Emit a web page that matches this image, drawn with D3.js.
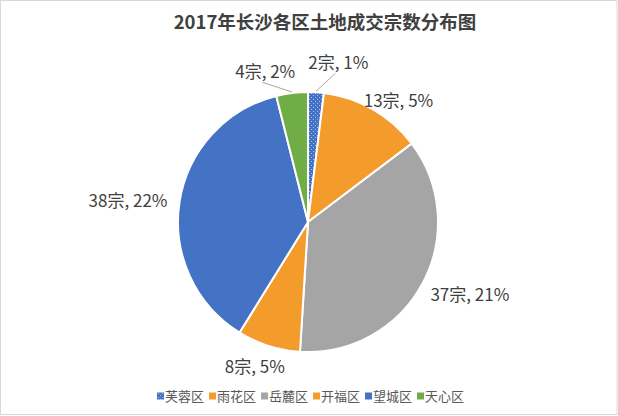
<!DOCTYPE html>
<html>
<head>
<meta charset="utf-8">
<script src="https://cdn.jsdelivr.net/npm/d3@7"></script>
<style>
  html, body { margin: 0; padding: 0; background: #fff; }
  svg { display: block; }
  text { font-family: "Noto Sans CJK SC", "Noto Sans", sans-serif; }
</style>
</head>
<body>
<svg id="chart" width="618" height="416"></svg>
<script>
// ---- data ----
const title = "2017年长沙各区土地成交宗数分布图";
const districts = ["芙蓉区", "雨花区", "岳麓区", "开福区", "望城区", "天心区"];
const counts = [2, 13, 37, 8, 38, 4];
const percentLabels = ["1%", "5%", "21%", "5%", "22%", "2%"];

// ---- styling / layout (not data) ----
const colors = ["#4472C4", "#F39B2B", "#A5A5A5", "#F39B2B", "#4472C4", "#70AD47"];
const patterned = [true, false, false, false, false, false];
// label nudges relative to outer-arc anchor (best-fit placement)
const labelNudge = [[20, 10], [6, 25], [13, -7], [-2, -16], [-13, 5], [-22, 18]];
const hasLeader = [true, false, false, false, false, true];

const W = 618, H = 416;
const cx = 308, cy = 222, R = 130;

const svg = d3.select("#chart");

// frame
svg.append("rect").attr("x", 0.5).attr("y", 0.5).attr("width", W - 1.5).attr("height", H - 2)
  .attr("fill", "#fff").attr("stroke", "#d9d9d9").attr("stroke-width", 1);

// dotted pattern
const defs = svg.append("defs");
const pat = defs.append("pattern").attr("id", "dots").attr("patternUnits", "userSpaceOnUse")
  .attr("width", 4).attr("height", 4);
pat.append("rect").attr("width", 4).attr("height", 4).attr("fill", colors[0]);
pat.append("rect").attr("x", 1).attr("y", 1).attr("width", 1).attr("height", 1).attr("fill", "#a9bde6");
pat.append("rect").attr("x", 3).attr("y", 3).attr("width", 1).attr("height", 1).attr("fill", "#a9bde6");

// title
svg.append("text").attr("x", 325).attr("y", 29).attr("text-anchor", "middle")
  .attr("font-size", 18.5).attr("font-weight", "bold").attr("fill", "#404040").text(title);

const data = districts.map((d, i) => ({ name: d, value: counts[i], pct: percentLabels[i], i }));
const pie = d3.pie().value(d => d.value).sort(null);
const arcs = pie(data);
const arc = d3.arc().innerRadius(0).outerRadius(R);
const labelArc = d3.arc().innerRadius(R * 1.3).outerRadius(R * 1.3);

const g = svg.append("g").attr("transform", `translate(${cx},${cy})`);

g.selectAll("path.slice").data(arcs).enter().append("path")
  .attr("class", "slice")
  .attr("d", arc)
  .attr("fill", d => patterned[d.data.i] ? "url(#dots)" : colors[d.data.i])
  .attr("stroke", "#fff").attr("stroke-width", 2).attr("stroke-linejoin", "round");

// labels
const labelPos = arcs.map(d => {
  const c = labelArc.centroid(d);
  const n = labelNudge[d.data.i];
  return [c[0] + n[0], c[1] + n[1]];
});

// leader lines
arcs.forEach((d, k) => {
  if (!hasLeader[d.data.i]) return;
  const mid = (d.startAngle + d.endAngle) / 2;
  const ex = R * Math.sin(mid), ey = -R * Math.cos(mid);
  const [lx, ly] = labelPos[k];
  g.append("line").attr("x1", lx - 3).attr("y1", ly + 10).attr("x2", ex).attr("y2", ey - 1)
    .attr("stroke", "#a6a6a6").attr("stroke-width", 1);
});

g.selectAll("text.lbl").data(arcs).enter().append("text")
  .attr("class", "lbl")
  .attr("x", (d, k) => labelPos[k][0])
  .attr("y", (d, k) => labelPos[k][1])
  .attr("dy", "0.35em")
  .attr("text-anchor", "middle")
  .attr("font-size", 17).attr("fill", "#404040")
  .text(d => `${d.data.value}宗, ${d.data.pct}`);

// legend
const legend = svg.append("g").attr("transform", "translate(157,396)");
const itemW = 52;
const items = legend.selectAll("g").data(data).enter().append("g")
  .attr("transform", (d, i) => `translate(${i * itemW},0)`);
items.append("rect").attr("x", 0).attr("y", -3.5).attr("width", 7).attr("height", 7)
  .attr("fill", d => patterned[d.i] ? "url(#dots)" : colors[d.i]);
items.append("text").attr("x", 8).attr("y", 0).attr("dy", "0.35em")
  .attr("font-size", 13).attr("fill", "#595959").text(d => d.name);
</script>
</body>
</html>
